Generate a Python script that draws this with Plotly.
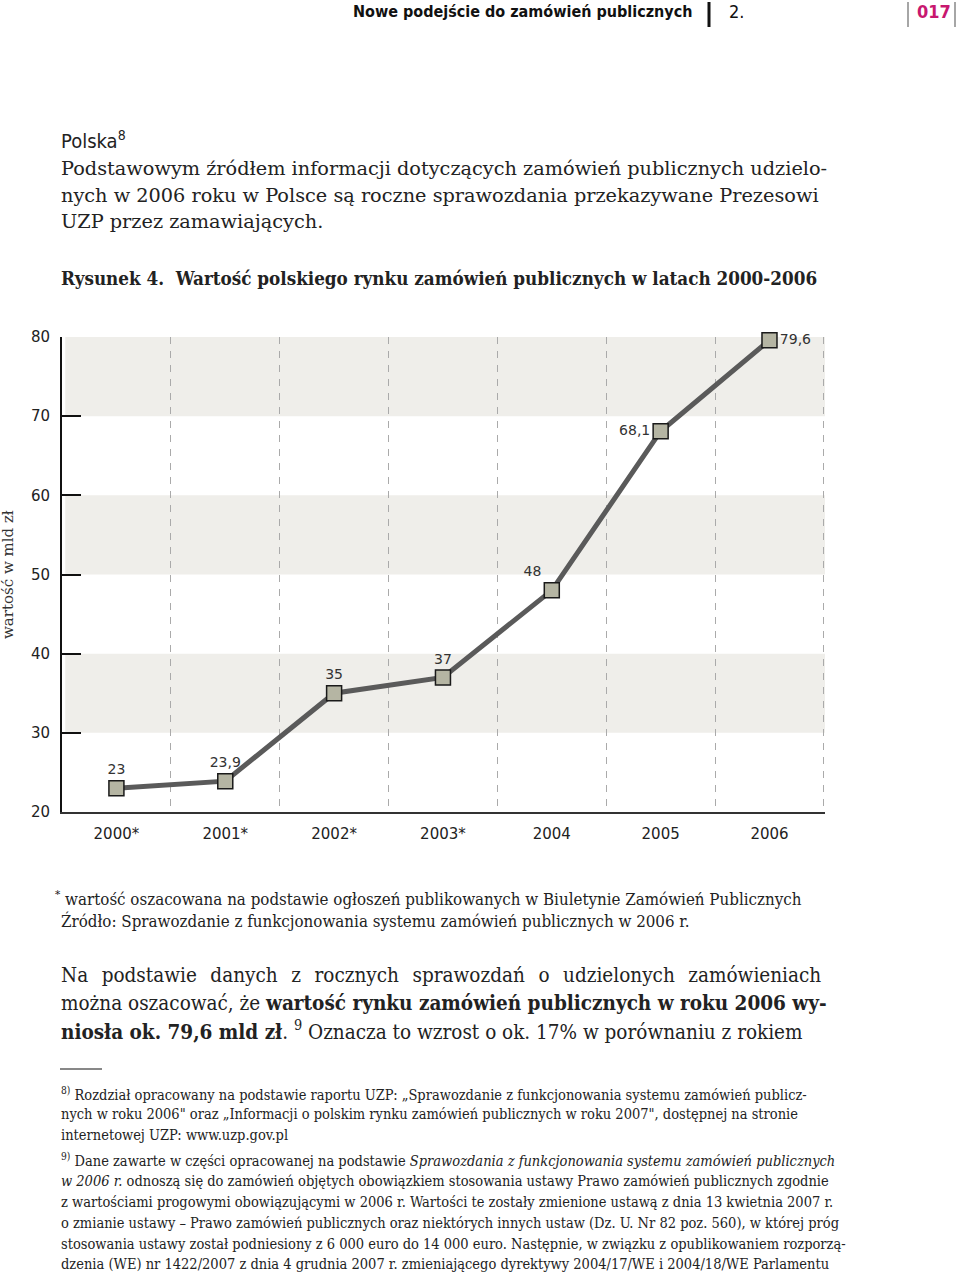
import plotly.graph_objects as go

# ---------------- data ----------------
years = ["2000*", "2001*", "2002*", "2003*", "2004", "2005", "2006"]
values = [23, 23.9, 35, 37, 48, 68.1, 79.6]
value_labels = ["23", "23,9", "35", "37", "48", "68,1", "79,6"]
label_positions = ["top center", "top center", "top center", "top center",
                   "top left", "middle left", "middle right"]
y_ticks = [20, 30, 40, 50, 60, 70, 80]
band_ranges = [(30, 40), (50, 60), (70, 80)]

# ---------------- page text ----------------
para1 = [
    "Podstawowym źródłem informacji dotyczących zamówień publicznych udzielo-",
    "nych w 2006 roku w Polsce są roczne sprawozdania przekazywane Prezesowi",
    "UZP przez zamawiających.",
]
para2 = [
    "Na&nbsp;&#8202; podstawie&nbsp;&#8202; danych&nbsp;&#8202; z&nbsp;&#8202; rocznych&nbsp;&#8202; "
    "sprawozdań&nbsp;&#8202; o&nbsp;&#8202; udzielonych&nbsp;&#8202; zamówieniach",
    "można oszacować, że <b>wartość rynku zamówień publicznych w roku 2006 wy-</b>",
    "<b>niosła ok. 79,6 mld zł</b>. <sup>9</sup> Oznacza to wzrost o ok. 17% w porównaniu z rokiem",
]
notes = [
    "<sup>8)</sup> Rozdział opracowany na podstawie raportu UZP: „Sprawozdanie z funkcjonowania systemu zamówień publicz-",
    "nych w roku 2006\" oraz „Informacji o polskim rynku zamówień publicznych w roku 2007\", dostępnej na stronie",
    "internetowej UZP: www.uzp.gov.pl",
    "<sup>9)</sup> Dane zawarte w części opracowanej na podstawie <i>Sprawozdania z funkcjonowania systemu zamówień publicznych</i>",
    "<i>w 2006 r.</i> odnoszą się do zamówień objętych obowiązkiem stosowania ustawy Prawo zamówień publicznych zgodnie",
    "z wartościami progowymi obowiązującymi w 2006 r. Wartości te zostały zmienione ustawą z dnia 13 kwietnia 2007 r.",
    "o zmianie ustawy – Prawo zamówień publicznych oraz niektórych innych ustaw (Dz. U. Nr 82 poz. 560), w której próg",
    "stosowania ustawy został podniesiony z 6 000 euro do 14 000 euro. Następnie, w związku z opublikowaniem rozporzą-",
    "dzenia (WE) nr 1422/2007 z dnia 4 grudnia 2007 r. zmieniającego dyrektywy 2004/17/WE i 2004/18/WE Parlamentu",
]
note_y = [1094, 1114, 1135, 1160, 1181, 1202, 1223, 1244, 1264]

# ---------------- geometry (page pixels) ----------------
W, H = 960, 1273
L, R, T, B = 62, 825, 337, 812          # plot area


def px(X):
    return (X - L) / (R - L)


def py(Y):
    return (B - Y) / (B - T)


SERIF = "DejaVu Serif, serif"
SERIF_C = "DejaVu Serif Condensed, DejaVu Serif, serif"
NARROW = "DejaVu Sans Condensed, DejaVu Sans, sans-serif"
SANS = "DejaVu Sans, Verdana, sans-serif"

x_idx = list(range(len(years)))

fig = go.Figure()
fig.add_trace(go.Scatter(
    x=x_idx, y=values, mode="lines+markers+text",
    line=dict(color="#5a5a5a", width=5),
    marker=dict(symbol="square", size=15, color="#b5b5a3",
                line=dict(color="#1a1a1a", width=1.5)),
    text=value_labels, textposition=label_positions,
    textfont=dict(family=SANS, size=14, color="#333333"),
    cliponaxis=False, showlegend=False, hoverinfo="skip",
))

shapes = []
for lo, hi in band_ranges:
    shapes.append(dict(type="rect", xref="x", yref="y", x0=-0.47, x1=6.55,
                       y0=lo, y1=hi, fillcolor="#efeeea", line=dict(width=0),
                       layer="below"))


def pline(x0, y0, x1, y1, color, width):
    shapes.append(dict(type="line", xref="paper", yref="paper",
                       x0=px(x0), x1=px(x1), y0=py(y0), y1=py(y1),
                       line=dict(color=color, width=width)))


# header bars and footnote rule
pline(709, 2, 709, 27, "#111111", 3)
pline(908, 2, 908, 27, "#888888", 1.5)
pline(955, 2, 955, 27, "#888888", 1.5)
pline(60, 1069, 102, 1069, "#111111", 1)

annotations = []


def text(X, Y, s, size, family, color="#222222", xanchor="left", angle=0):
    annotations.append(dict(
        xref="paper", yref="paper", x=px(X), y=py(Y), text=s,
        xanchor=xanchor, yanchor="middle", showarrow=False, textangle=angle,
        font=dict(size=size, family=family, color=color)))


# header
text(351, 11, "<b>Nowe podejście do zamówień publicznych</b>", 16, NARROW, "#111111")
text(727, 11, "2.", 18, NARROW, "#111111")
text(915, 11, "<b>017</b>", 18, NARROW, "#c8176f")

# top text
text(59, 140, "Polska<sup>8</sup>", 20, NARROW, "#222222")
for i, s in enumerate(para1):
    text(59, 168 + 27 * i, s, 19.3, SERIF)
text(59, 278, "<b>Rysunek 4.&nbsp;&nbsp;Wartość polskiego rynku zamówień publicznych w latach 2000-2006</b>",
     18.7, SERIF_C)

# y-axis title
text(8, 575, "wartość w mld zł", 15, SERIF, "#333333", xanchor="center", angle=-90)

# below chart
text(53, 898, "<sup>*</sup> wartość oszacowana na podstawie ogłoszeń publikowanych w Biuletynie Zamówień Publicznych",
     16.8, SERIF_C)
text(59, 921, "Źródło: Sprawozdanie z funkcjonowania systemu zamówień publicznych w 2006 r.", 16.8, SERIF_C)
for i, s in enumerate(para2):
    text(59, 975 + 27.5 * i, s, 20.5, SERIF_C)
for s, yy in zip(notes, note_y):
    text(59, yy, s, 14.5, SERIF_C)

fig.update_layout(
    width=W, height=H,
    margin=dict(l=L, r=W - R, t=T, b=H - B, pad=0),
    paper_bgcolor="white", plot_bgcolor="white",
    shapes=shapes, annotations=annotations,
    xaxis=dict(
        range=[-0.5, 6.51], tickvals=x_idx, ticktext=years,
        showgrid=False, zeroline=False,
        showline=True, linecolor="#333333", linewidth=2,
        ticks="", ticklabelstandoff=7,
        tickfont=dict(family=SANS, size=15, color="#222222"),
        minor=dict(tick0=0.5, dtick=1, showgrid=True, gridcolor="#aaaaaa",
                   gridwidth=1, griddash="7px,7px", ticks=""),
    ),
    yaxis=dict(
        range=[20, 80], tickvals=y_ticks, showgrid=False, zeroline=False,
        showline=True, linecolor="#111111", linewidth=2,
        ticks="inside", ticklen=19, tickwidth=2, tickcolor="#111111",
        ticklabelstandoff=7,
        tickfont=dict(family=SANS, size=15, color="#222222"),
    ),
)

fig.write_html("out.html", config={"displayModeBar": False},
               post_script="document.body.style.margin='0';")
